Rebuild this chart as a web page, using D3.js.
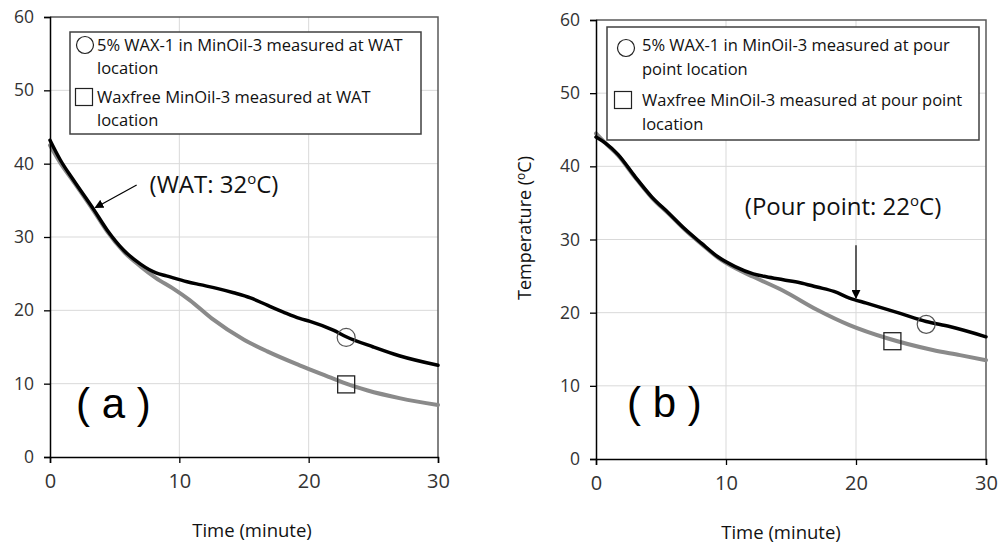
<!DOCTYPE html>
<html>
<head>
<meta charset="utf-8">
<script src="https://cdn.jsdelivr.net/npm/d3@7"></script>
<style>
  html, body { margin: 0; padding: 0; background: #fff; }
  svg text { font-family: "Open Sans", "Noto Sans", sans-serif; }
</style>
</head>
<body>
<div class="Graph"></div>
<script>
// panel (a) : WAT location
const timeA_wax = [0, 0.8, 1.8, 3.4, 4.4, 5.7, 7, 8.2, 9, 10.6, 11.6, 12.9, 14.2, 15.5, 16.8, 18, 19.3, 20.1, 21.9, 22.9, 25, 27, 30];
const tempA_wax = [43.2, 40.5, 37.8, 33.7, 31.0, 28.2, 26.3, 25.1, 24.7, 23.9, 23.5, 23.0, 22.4, 21.7, 20.7, 19.8, 18.9, 18.5, 17.3, 16.4, 15.0, 13.8, 12.5];
const timeA_free = [0, 0.8, 1.8, 3.4, 4.4, 5.7, 7, 8.2, 9.5, 10.8, 12.5, 15, 16.8, 19.3, 21.9, 22.9, 24.5, 27.1, 30];
const tempA_free = [42.5, 40.1, 37.6, 33.5, 30.8, 28.0, 26.0, 24.4, 23.0, 21.4, 18.9, 16.0, 14.4, 12.5, 10.7, 10.0, 9.1, 8.0, 7.1];
const markA = [[22.9, 16.3], [22.9, 9.9]];   // circle, square

// panel (b) : pour point location
const timeB_wax = [0, 0.7, 1.7, 3.0, 4.3, 5.6, 6.8, 8.1, 9.4, 10.7, 12.1, 13.1, 14.4, 15.7, 17.0, 18.3, 19.5, 20.8, 23.4, 25.4, 27.2, 30];
const tempB_wax = [44.0, 43.2, 41.6, 38.6, 35.8, 33.6, 31.5, 29.5, 27.6, 26.3, 25.3, 24.9, 24.5, 24.1, 23.5, 22.9, 22.0, 21.3, 19.9, 18.8, 18.1, 16.7];
const timeB_free = [0, 0.7, 1.7, 3.0, 4.3, 5.6, 6.8, 8.1, 9.4, 10.7, 12.1, 14.4, 17.0, 19.5, 22.4, 25.9, 28, 30];
const tempB_free = [44.5, 43.2, 41.5, 38.5, 35.7, 33.5, 31.4, 29.4, 27.5, 26.1, 24.9, 23.0, 20.4, 18.3, 16.5, 14.9, 14.2, 13.5];
const markB = [[25.4, 18.4], [22.8, 16.1]];

const xTicks = [0, 10, 20, 30];
const yTicks = [0, 10, 20, 30, 40, 50, 60];

const legendA = [["5% WAX-1 in MinOil-3 measured at WAT", "location"],
                 ["Waxfree MinOil-3 measured at WAT", "location"]];
const legendB = [["5% WAX-1 in MinOil-3 measured at pour", "point location"],
                 ["Waxfree MinOil-3 measured at pour point", "location"]];

const svg = d3.select(".Graph").append("svg")
    .attr("width", 999)
    .attr("height", 546);

const defs = svg.append("defs");
defs.append("marker")
    .attr("id", "arr")
    .attr("viewBox", "0 0 10 10")
    .attr("refX", 9).attr("refY", 5)
    .attr("markerWidth", 9).attr("markerHeight", 9)
    .attr("markerUnits", "userSpaceOnUse")
    .attr("orient", "auto")
    .append("path")
    .attr("d", "M0,0 L10,5 L0,10 z")
    .attr("fill", "#000");

function panel(o) {//=====================panel
    let x = d3.scaleLinear().domain([0, 30]).range([o.x0, o.x1]);
    let y = d3.scaleLinear().domain([0, 60]).range([o.y0, o.y1]);
    let g = svg.append("g");

    // grid
    g.selectAll(".gx").data(xTicks.slice(1, -1)).enter().append("line")
        .attr("x1", d => x(d)).attr("x2", d => x(d))
        .attr("y1", y(0)).attr("y2", y(60))
        .attr("stroke", "#d9d9d9").attr("stroke-width", 1);
    g.selectAll(".gy").data(yTicks.slice(1, -1)).enter().append("line")
        .attr("x1", x(0)).attr("x2", x(30))
        .attr("y1", d => y(d)).attr("y2", d => y(d))
        .attr("stroke", "#d9d9d9").attr("stroke-width", 1);

    // frame top / right
    g.append("path")
        .attr("d", `M${x(0)},${y(60)} H${x(30)} V${y(0)}`)
        .attr("fill", "none").attr("stroke", "#595959").attr("stroke-width", 1.5);

    // lines
    let line = d3.line().curve(d3.curveMonotoneX).x(d => x(d[0])).y(d => y(d[1]));
    g.append("path").datum(d3.zip(o.tf, o.vf))
        .attr("d", line).attr("fill", "none")
        .attr("stroke", "#8a8a8a").attr("stroke-width", 4).attr("stroke-linecap", "round");
    g.append("path").datum(d3.zip(o.tw, o.vw))
        .attr("d", line).attr("fill", "none")
        .attr("stroke", "#000").attr("stroke-width", 3.5).attr("stroke-linecap", "round");

    // markers
    g.append("circle")
        .attr("cx", x(o.mark[0][0])).attr("cy", y(o.mark[0][1])).attr("r", 9)
        .attr("fill", "none").attr("stroke", "#555").attr("stroke-width", 1.2);
    g.append("rect")
        .attr("x", x(o.mark[1][0]) - 8.5).attr("y", y(o.mark[1][1]) - 8.5)
        .attr("width", 17).attr("height", 17)
        .attr("fill", "none").attr("stroke", "#222").attr("stroke-width", 1.3);

    // axes
    let ax = g.append("g").attr("transform", `translate(0,${y(0)})`)
        .call(d3.axisBottom(x).tickValues(xTicks).tickSize(6).tickPadding(11));
    let ay = g.append("g").attr("transform", `translate(${x(0)},0)`)
        .call(d3.axisLeft(y).tickValues(yTicks).tickSize(6).tickPadding(10));
    [ax, ay].forEach(a => {
        a.select(".domain").attr("stroke", "#000").attr("stroke-width", 1.5);
        a.selectAll(".tick line").attr("stroke", "#000").attr("stroke-width", 1.3);
        a.selectAll(".tick text").attr("fill", "#333")
            .style("font-family", "'Open Sans', sans-serif");
    });
    ax.selectAll(".tick text").style("font-size", "20px");
    ay.selectAll(".tick text").style("font-size", "17.5px");

    // legend
    let lg = g.append("g");
    let lx = o.leg[0], ly = o.leg[1], lo = o.legOff;
    lg.append("rect")
        .attr("x", lx).attr("y", ly)
        .attr("width", o.leg[2]).attr("height", o.leg[3])
        .attr("fill", "#fff").attr("stroke", "#404040").attr("stroke-width", 1.5);
    lg.append("circle").attr("cx", lx + lo.cx).attr("cy", ly + lo.cy).attr("r", 8.5)
        .attr("fill", "none").attr("stroke", "#222").attr("stroke-width", 1.2);
    lg.append("rect").attr("x", lx + lo.sx - 8.5).attr("y", ly + lo.sy - 8.5)
        .attr("width", 17).attr("height", 17)
        .attr("fill", "none").attr("stroke", "#222").attr("stroke-width", 1.2);
    o.legText.forEach((rows, i) => {
        rows.forEach((r, j) => {
            lg.append("text")
                .attr("x", lx + lo.tx).attr("y", ly + lo.ty + i * lo.item + j * lo.row)
                .attr("fill", "#111").style("font-size", "16.5px")
                .text(r);
        });
    });

    // panel tag
    g.append("text")
        .attr("x", o.tag[0]).attr("y", o.tag[1])
        .attr("fill", "#000")
        .style("font-family", "'Liberation Sans', Arial, sans-serif")
        .style("font-size", "42px")
        .attr("xml:space", "preserve")
        .text(o.tag[2]);

    // annotation
    let t = g.append("text")
        .attr("x", x(o.note[0])).attr("y", y(o.note[1]))
        .attr("fill", "#111").style("font-size", "24px");
    t.append("tspan").text(o.note[2]);
    t.append("tspan").attr("dy", -9).style("font-size", "15px").text("o");
    t.append("tspan").attr("dy", 9).text("C)");
    g.append("line")
        .attr("x1", x(o.arrow[0])).attr("y1", y(o.arrow[1]))
        .attr("x2", x(o.arrow[2])).attr("y2", y(o.arrow[3]))
        .attr("stroke", "#000").attr("stroke-width", 1.2)
        .attr("marker-end", "url(#arr)");

    // axis title
    g.append("text")
        .attr("x", o.titleX).attr("y", o.y0 + 80)
        .attr("text-anchor", "middle").attr("fill", "#111")
        .style("font-size", "18.5px")
        .text("Time (minute)");
    return {x: x, y: y, g: g};
}//=====================panel

panel({
    x0: 50, x1: 438, y0: 457, y1: 17,
    tw: timeA_wax, vw: tempA_wax, tf: timeA_free, vf: tempA_free, mark: markA,
    leg: [70, 32, 351, 102], legText: legendA,
    legOff: {cx: 15, cy: 13, sx: 14, sy: 65, tx: 27, ty: 19, row: 23, item: 52},
    tag: [76, 418, "( a )"],
    note: [7.7, 36.0, "(WAT: 32"],
    arrow: [6.7, 37.1, 3.5, 34.0],
    titleX: 252
});

let pb = panel({
    x0: 596, x1: 986, y0: 459, y1: 20,
    tw: timeB_wax, vw: tempB_wax, tf: timeB_free, vf: tempB_free, mark: markB,
    leg: [607, 27, 372, 113], legText: legendB,
    legOff: {cx: 19, cy: 21, sx: 16, sy: 73, tx: 35, ty: 24, row: 24, item: 55},
    tag: [627, 417, "( b )"],
    note: [11.45, 33.3, "(Pour point: 22"],
    arrow: [20, 29.2, 20, 22.0],
    titleX: 781
});

// y title only on (b)
let yt = pb.g.append("text")
    .attr("transform", "translate(531,228) rotate(-90)")
    .attr("text-anchor", "middle").attr("fill", "#111")
    .style("font-size", "18px");
yt.append("tspan").text("Temperature (");
yt.append("tspan").attr("dy", -6).style("font-size", "12px").text("o");
yt.append("tspan").attr("dy", 6).text("C)");
</script>
</body>
</html>
